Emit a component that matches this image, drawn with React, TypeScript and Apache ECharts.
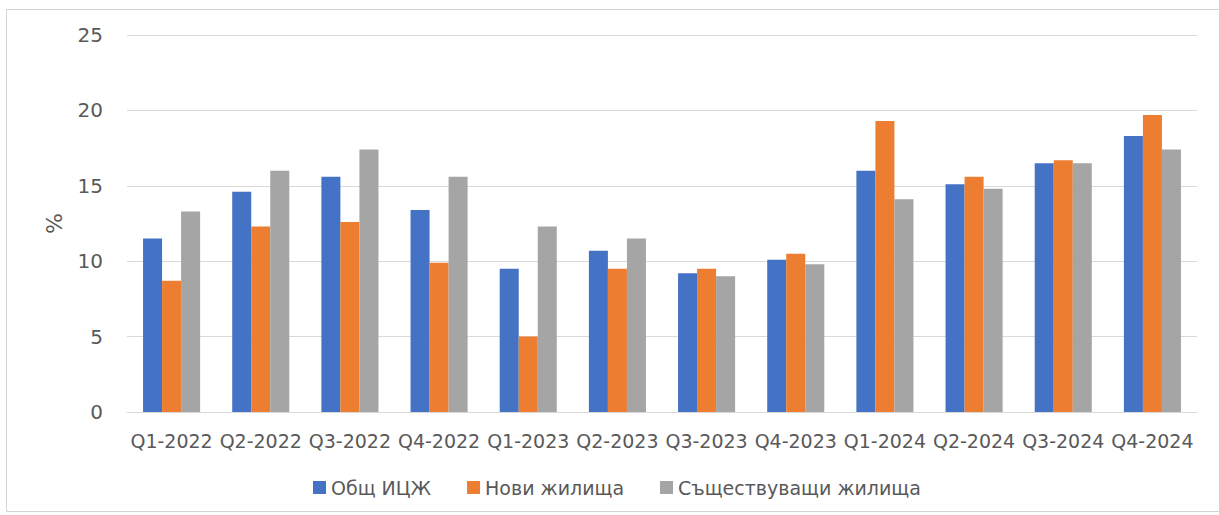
import React, { useEffect, useRef } from "react";
import * as echarts from "echarts";

const categories = [
  "Q1-2022", "Q2-2022", "Q3-2022", "Q4-2022",
  "Q1-2023", "Q2-2023", "Q3-2023", "Q4-2023",
  "Q1-2024", "Q2-2024", "Q3-2024", "Q4-2024",
];
const seriesNames = ["Общ ИЦЖ", "Нови жилища", "Съществуващи жилища"];
const totalIndex = [11.5, 14.6, 15.6, 13.4, 9.5, 10.7, 9.2, 10.1, 16.0, 15.1, 16.5, 18.3];
const newDwellings = [8.7, 12.3, 12.6, 9.9, 5.0, 9.5, 9.5, 10.5, 19.3, 15.6, 16.7, 19.7];
const existingDwellings = [13.3, 16.0, 17.4, 15.6, 12.3, 11.5, 9.0, 9.8, 14.1, 14.8, 16.5, 17.4];
const colors = ["#4472C4", "#ED7D31", "#A5A5A5"];
const yAxisName = "%";

const FONT = "DejaVu Sans";
const TEXT = "#595959";

export default function App() {
  const ref = useRef<HTMLDivElement>(null);
  useEffect(() => {
    if (!ref.current) return;
    const chart = echarts.init(ref.current, undefined, { renderer: "svg" });
    const data = [totalIndex, newDwellings, existingDwellings];
    chart.setOption({
      animation: false,
      backgroundColor: "#ffffff",
      textStyle: { fontFamily: FONT },
      grid: { left: 127, right: 22, top: 35, bottom: 103, containLabel: false },
      legend: {
        left: 308,
        top: 473,
        itemWidth: 13,
        itemHeight: 13,
        itemGap: 36,
        icon: "rect",
        textStyle: { fontFamily: FONT, fontSize: 19, color: TEXT },
        data: seriesNames,
      },
      xAxis: {
        type: "category",
        data: categories,
        axisLine: { lineStyle: { color: "#d9d9d9", width: 1 } },
        axisTick: { show: false },
        axisLabel: { interval: 0, color: TEXT, fontFamily: FONT, fontSize: 19, margin: 19 },
      },
      yAxis: {
        type: "value",
        min: 0,
        max: 25,
        interval: 5,
        name: yAxisName,
        nameLocation: "middle",
        nameGap: 62,
        nameRotate: 90,
        nameTextStyle: { color: TEXT, fontFamily: FONT, fontSize: 22 },
        axisLine: { show: false },
        axisTick: { show: false },
        axisLabel: { color: TEXT, fontFamily: FONT, fontSize: 20, margin: 24 },
        splitLine: { lineStyle: { color: "#d9d9d9", width: 1 } },
      },
      graphic: [
        {
          type: "rect",
          shape: { x: 6.5, y: 9.5, width: 1230, height: 502 },
          style: { fill: "none", stroke: "#d4d4d4", lineWidth: 1 },
          silent: true,
          z: -1,
        },
      ],
      series: seriesNames.map((name, i) => ({
        name,
        type: "bar",
        data: data[i],
        barGap: "0%",
        barCategoryGap: "36%",
        itemStyle: { color: colors[i] },
      })),
    });
    return () => chart.dispose();
  }, []);
  return (
    <div
      ref={ref}
      style={{ position: "fixed", left: 0, top: 0, width: 1219, height: 515 }}
    />
  );
}
